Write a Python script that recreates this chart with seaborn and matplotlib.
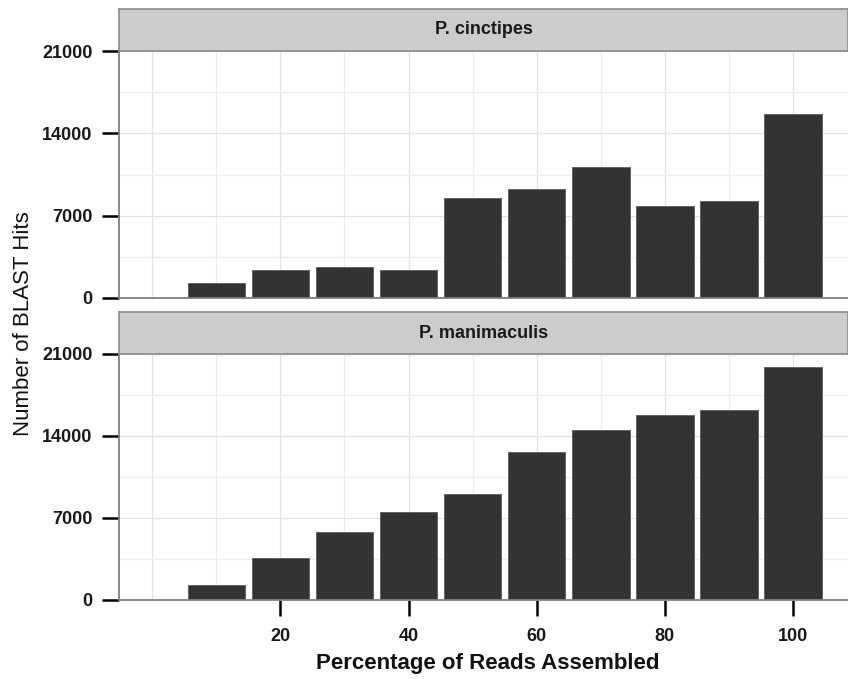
import matplotlib
matplotlib.use("Agg")
import matplotlib.pyplot as plt
import seaborn as sns
import pandas as pd

# ---- data ----
percent = [10, 20, 30, 40, 50, 60, 70, 80, 90, 100]
cinctipes_hits = [1250, 2410, 2610, 2390, 8490, 9250, 11180, 7780, 8260, 15640]
manimaculis_hits = [1250, 3580, 5790, 7490, 9050, 12630, 14500, 15810, 16260, 19890]
species = ["P. cinctipes", "P. manimaculis"]
x_ticks = [20, 40, 60, 80, 100]
y_ticks = [0, 7000, 14000, 21000]

sns.set_theme(style="white")
plt.rcParams["font.family"] = ["Liberation Sans", "DejaVu Sans"]

W, H = 848, 679
fig = plt.figure(figsize=(W / 100, H / 100), dpi=100)

def fx(px):
    return px / W

def fy(py):
    return 1 - py / H

panels = [
    # (strip_top, strip_bottom=panel_top, panel_bottom)
    (9, 51, 298),
    (312, 354, 600),
]
left_px, right_px = 119, 848

series = [cinctipes_hits, manimaculis_hits]
axes = []
for i, (st, pt, pb) in enumerate(panels):
    ax = fig.add_axes([fx(left_px), fy(pb), fx(right_px - left_px), (pb - pt) / H])
    df = pd.DataFrame({"pct": percent, "hits": series[i]})
    # grid
    for xv in range(0, 101, 10):
        ax.axvline(xv, color="#EDEDED" if xv % 20 else "#E3E3E3", lw=0.9, zorder=0)
    for yv in [3500, 10500, 17500]:
        ax.axhline(yv, color="#EDEDED", lw=0.9, zorder=0)
    for yv in y_ticks:
        ax.axhline(yv, color="#E3E3E3", lw=0.9, zorder=0)
    sns.barplot(data=df, x="pct", y="hits", native_scale=True, width=0.9,
                color="#333333", edgecolor="#5a5a5a", linewidth=0.6,
                saturation=1, ax=ax, zorder=2)
    ax.set_xlim(-5.2, 108.6)
    ax.set_ylim(0, 21000)
    ax.set_yticks(y_ticks)
    ax.set_yticklabels([str(v) for v in y_ticks])
    ax.set_xticks(x_ticks)
    ax.set_xlabel("")
    ax.set_ylabel("")
    for s in ["top", "right"]:
        ax.spines[s].set_visible(False)
    for s in ["left", "bottom"]:
        ax.spines[s].set_visible(True)
        ax.spines[s].set_color("#808080")
        ax.spines[s].set_linewidth(1.3)
    ax.tick_params(axis="y", which="major", direction="out", length=12, width=1.8,
                   color="black", left=True, pad=7, labelsize=13, labelcolor="#1a1a1a")
    for lab in ax.get_yticklabels():
        lab.set_fontweight("bold")
    if i == 0:
        ax.tick_params(axis="x", which="both", bottom=False, labelbottom=False)
    else:
        ax.tick_params(axis="x", which="major", direction="out", length=11.5, width=1.8,
                       color="black", bottom=True, pad=9, labelsize=13, labelcolor="#1a1a1a")
        for lab in ax.get_xticklabels():
            lab.set_fontweight("bold")
    ax.set_facecolor("white")
    axes.append(ax)

    # strip
    sax = fig.add_axes([fx(left_px), fy(pt), fx(right_px - left_px), (pt - st) / H])
    sax.set_facecolor("#CCCCCC")
    sax.set_xticks([])
    sax.set_yticks([])
    for s in sax.spines.values():
        s.set_visible(True)
        s.set_color("#8a8a8a")
        s.set_linewidth(1.2)
    sax.text(0.5, 0.5, species[i], transform=sax.transAxes, ha="center", va="center",
             fontsize=13, fontweight="bold", color="#1a1a1a")

fig.text(fx(24), fy(324), "Number of BLAST Hits", rotation=90, ha="center", va="center",
         fontsize=16, color="#111111")
fig.text(fx(488), fy(663), "Percentage of Reads Assembled", ha="center", va="center",
         fontsize=16, fontweight="bold", color="#111111")

fig.savefig("out.png", dpi=100)
